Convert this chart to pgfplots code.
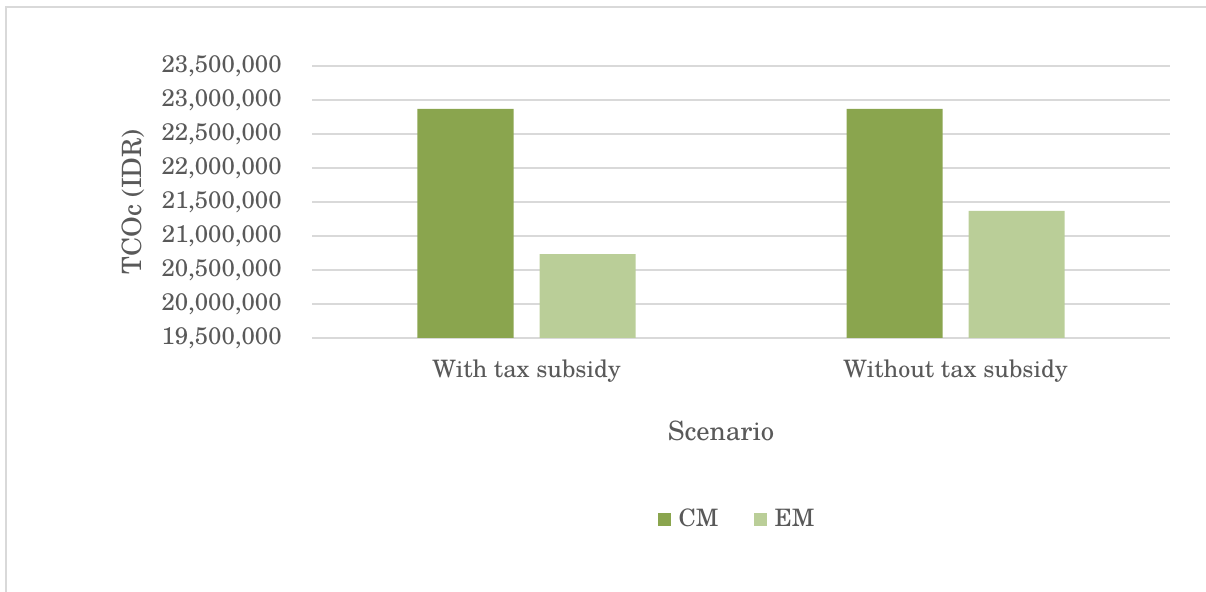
\documentclass[border=0pt]{standalone}
\usepackage{fontspec}
\setmainfont{TeX Gyre Schola}
\usepackage{pgfplots}
\pgfplotsset{compat=1.18}
\definecolor{cm}{HTML}{8AA54E}
\definecolor{em}{HTML}{BACE98}
\definecolor{gridgray}{HTML}{D9D9D9}
\definecolor{txt}{HTML}{595959}
\begin{document}
\begin{tikzpicture}
\useasboundingbox (0,0) rectangle (603pt,-296pt);
\draw[gridgray, line width=1pt] (3pt,-310pt) -- (3pt,-3.3pt) -- (620pt,-3.3pt);
\begin{axis}[
  at={(156pt,-169pt)}, anchor=south west,
  scale only axis, width=429pt, height=136pt,
  ybar, bar width=48pt,
  legend image code/.code={\fill[#1] (0pt,-3.25pt) rectangle (6.5pt,3.25pt);},
  xmin=-0.5, xmax=1.5, ymin=19500000, ymax=23500000,
  xtick={0,1}, xticklabels={With tax subsidy,Without tax subsidy},
  ytick={19500000,20000000,20500000,21000000,21500000,22000000,22500000,23000000,23500000},
  scaled y ticks=false,
  /pgf/number format/fixed,
  /pgf/number format/precision=0,
  /pgf/number format/1000 sep={,},
  /pgf/number format/assume math mode=true,
  ymajorgrids, grid style={gridgray, line width=0.9pt},
  axis line style={draw=none},
  major tick length=0pt, tick style={draw=none},
  tick label style={font=\fontsize{12}{14}\selectfont, text=txt},
  yticklabel style={anchor=east, inner sep=0pt, xshift=-15pt},
  xticklabel style={anchor=base, inner sep=0pt, yshift=-20pt},
  ylabel={TCOc (IDR)}, xlabel={Scenario},
  label style={font=\fontsize{13.3}{16}\selectfont, text=txt},
  ylabel style={at={(axis description cs:-0.2086,0.5)}, anchor=center},
  xlabel style={at={(axis description cs:0.4767,0)}, anchor=base, inner sep=0pt, yshift=-51.5pt},
  legend columns=2,
  legend style={at={(axis description cs:0.4942,-0.667)}, anchor=center,
    draw=none, fill=none, inner sep=0pt,
    font=\fontsize{12}{14}\selectfont, text=txt,
    nodes={inner sep=0pt},
    /tikz/every odd column/.append style={column sep=4pt},
    /tikz/every even column/.append style={column sep=17.5pt}},
]
\addplot[fill=cm, draw=none, bar shift=-30.5pt] coordinates {(0,22868000) (1,22868000)};
\addplot[fill=em, draw=none, bar shift=30.5pt] coordinates {(0,20735000) (1,21368000)};
\legend{CM,EM}
\end{axis}
\end{tikzpicture}
\end{document}
